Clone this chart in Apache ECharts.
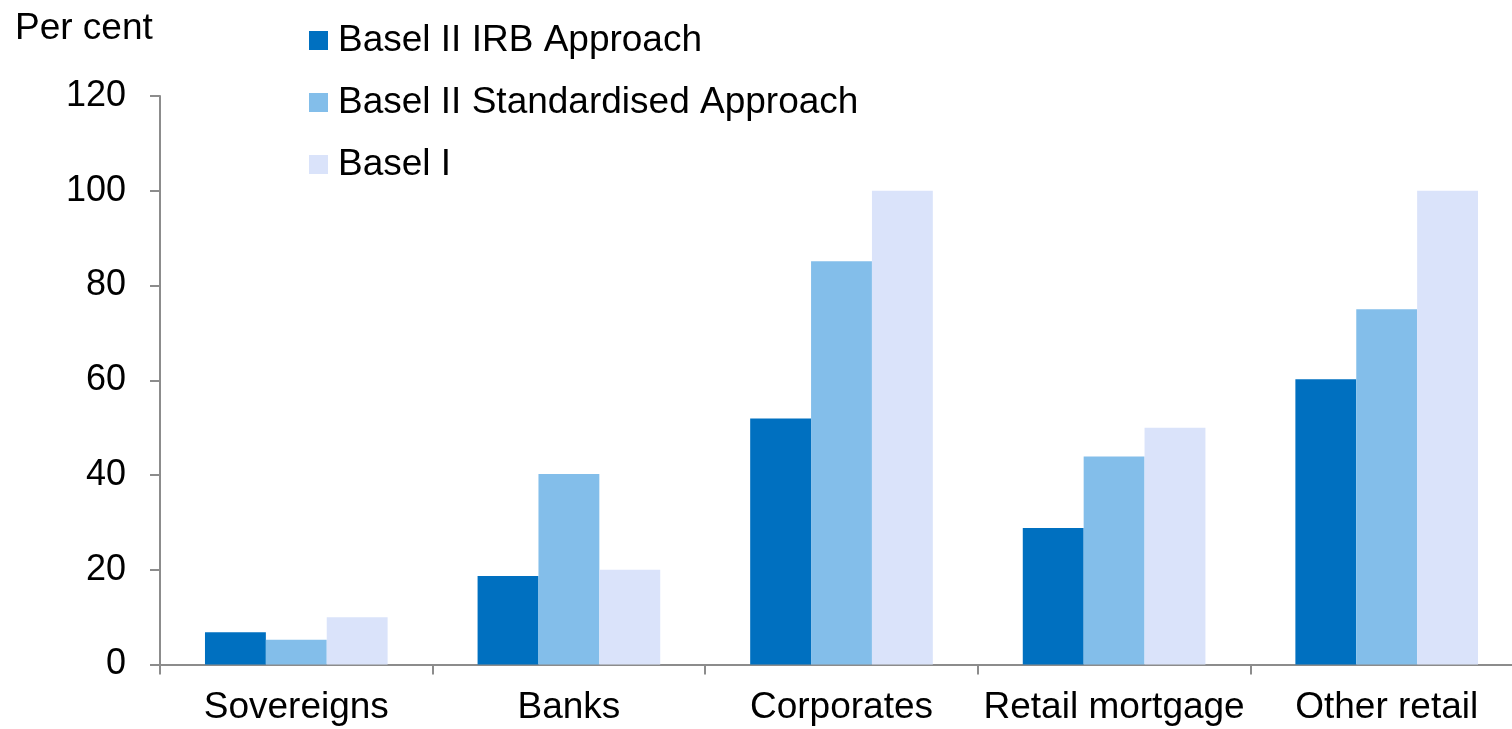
<!DOCTYPE html>
<html>
<head>
<meta charset="utf-8">
<script src="https://cdn.jsdelivr.net/npm/echarts@6/dist/echarts.min.js"></script>
<style>html,body{margin:0;padding:0;background:#fff;overflow:hidden;}#c{width:1523px;height:729px;}</style>
</head>
<body>
<div id="c"></div>
<script>
const categories = ['Sovereigns', 'Banks', 'Corporates', 'Retail mortgage', 'Other retail'];
const seriesNames = ['Basel II IRB Approach', 'Basel II Standardised Approach', 'Basel I'];
const irb = [6.8, 18.7, 51.9, 28.8, 60.2];
const standardised = [5.2, 40.2, 85.1, 43.9, 75.0];
const basel1 = [10, 20, 100, 50, 100];
const yTicks = [0, 20, 40, 60, 80, 100, 120];
const colors = ['#0070C0', '#83BEEA', '#DAE3FA'];

const font = 'Liberation Sans, Arial, sans-serif';
const chart = echarts.init(document.getElementById('c'));
const values = [irb, standardised, basel1];
chart.setOption({
  animation: false,
  backgroundColor: '#ffffff',
  grid: { left: 160, top: 96, bottom: 64.5, right: 0, containLabel: false },
  legend: {
    orient: 'vertical', left: 309, top: 22, padding: 0, itemWidth: 19, itemHeight: 19, itemGap: 25,
    icon: 'rect',
    textStyle: { fontFamily: font, fontSize: 37, color: '#000', padding: [0, 0, 0, 5] },
    data: seriesNames
  },
  graphic: [{
    type: 'text', left: 15, top: 10,
    style: { text: 'Per cent', font: '37px ' + font, fill: '#000' }
  }],
  xAxis: {
    type: 'category', data: categories,
    axisLine: { lineStyle: { color: '#8c8c8c', width: 2 } },
    axisTick: { show: true, interval: 0, length: 10, lineStyle: { color: '#8c8c8c', width: 2 } },
    axisLabel: { interval: 0, fontFamily: font, fontSize: 37, color: '#000', margin: 25 }
  },
  yAxis: {
    type: 'value', min: yTicks[0], max: yTicks[yTicks.length-1], interval: 20,
    splitLine: { show: false },
    axisLine: { show: true, lineStyle: { color: '#8c8c8c', width: 2 } },
    axisTick: { show: true, length: 10, lineStyle: { color: '#8c8c8c', width: 2 } },
    axisLabel: { fontFamily: font, fontSize: 36, color: '#000', margin: 34 }
  },
  series: seriesNames.map((n, i) => ({
    name: n, type: 'bar', data: values[i], barGap: '0%', barCategoryGap: '33%',
    itemStyle: { color: colors[i] }
  }))
});
</script>
</body>
</html>
